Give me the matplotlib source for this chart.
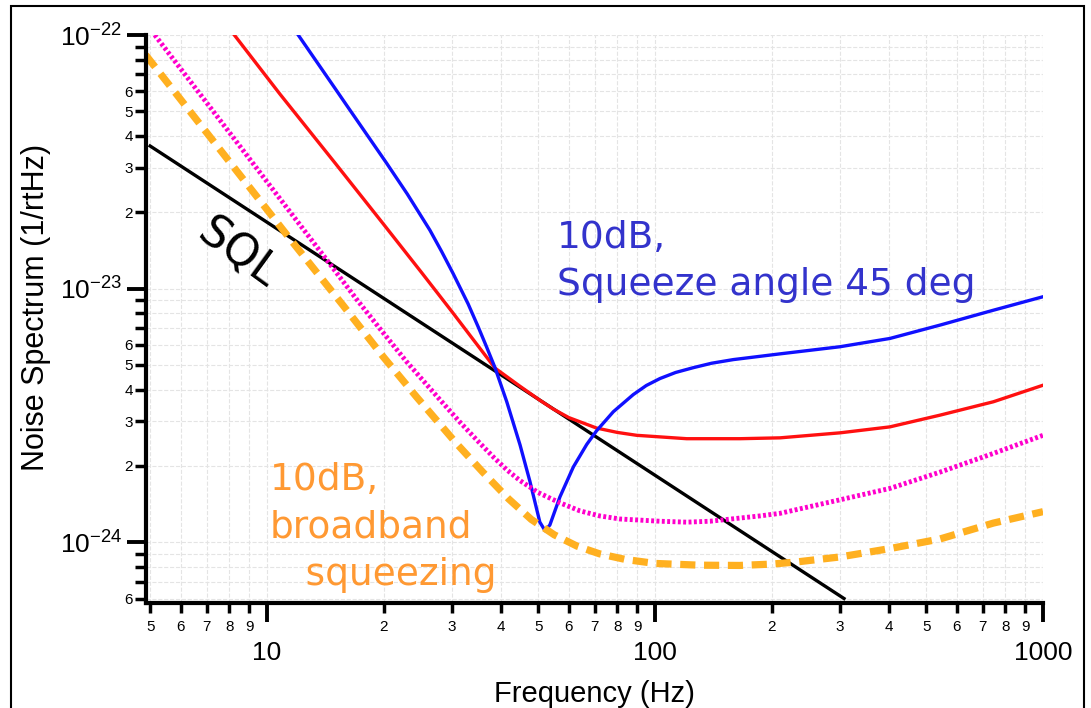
import numpy as np
import matplotlib
matplotlib.use('Agg')
import matplotlib.pyplot as plt
import matplotlib.ticker as ticker
from matplotlib.patches import Rectangle

plt.rcParams['font.family'] = ['Liberation Sans', 'DejaVu Sans']

# SQL (straight line in log-log)
freq_sql = [5, 307]
sql = [3.65e-23, 6.0e-25]

# red: no squeezing
freq_red = [8.24, 10.8, 15, 20, 25, 30, 34, 38.7, 44.9, 50.5, 54.7, 60, 70.7, 80,
            89.7, 120.7, 165.6, 210, 299.8, 403, 542.6, 745, 1000]
red = [1e-22, 5.85e-23, 3.12e-23, 1.79e-23, 1.16e-23, 8.1e-24, 6.3e-24, 4.86e-24,
       4.12e-24, 3.63e-24, 3.35e-24, 3.1e-24, 2.82e-24, 2.71e-24, 2.64e-24, 2.56e-24,
       2.56e-24, 2.58e-24, 2.70e-24, 2.85e-24, 3.17e-24, 3.58e-24, 4.16e-24]

# blue: 10dB, squeeze angle 45 deg
freq_blue = [12.04, 15, 16.05, 20.35, 23, 26.3, 28.2, 30.2, 33, 35.05, 36.8, 38.7,
             41.5, 44.9, 47.6, 50.5, 52.1, 53.6, 56.9, 61.6, 66.7, 70.7, 78.1, 87.9,
             95, 103, 113, 125.6, 140, 159.2, 209.9, 299.8, 403, 542.6, 745, 1000]
blue = [1e-22, 6.14e-23, 5.28e-23, 3.12e-23, 2.36e-23, 1.70e-23, 1.40e-23, 1.145e-23,
        8.7e-24, 7.05e-24, 5.9e-24, 4.88e-24, 3.58e-24, 2.42e-24, 1.74e-24, 1.2e-24,
        1.11e-24, 1.17e-24, 1.51e-24, 1.98e-24, 2.43e-24, 2.75e-24, 3.27e-24,
        3.82e-24, 4.15e-24, 4.42e-24, 4.67e-24, 4.88e-24, 5.08e-24, 5.25e-24,
        5.53e-24, 5.90e-24, 6.36e-24, 7.18e-24, 8.22e-24, 9.29e-24]

# magenta dotted
freq_mag = [5.14, 8, 10, 14.25, 17, 19.55, 22.9, 27.9, 31.4, 35, 38.3, 41.5, 44.9,
            50, 56.9, 64, 72, 81.2, 103, 120.7, 138.6, 186.5, 210, 299.8, 403,
            542.6, 745, 1000]
mag = [1e-22, 4.13e-23, 2.64e-23, 1.30e-23, 9.1e-24, 6.95e-24, 5.15e-24, 3.65e-24,
       2.98e-24, 2.5e-24, 2.17e-24, 1.93e-24, 1.75e-24, 1.57e-24, 1.43e-24,
       1.33e-24, 1.27e-24, 1.235e-24, 1.21e-24, 1.20e-24, 1.21e-24, 1.27e-24,
       1.30e-24, 1.47e-24, 1.63e-24, 1.89e-24, 2.24e-24, 2.64e-24]

# orange dashed: 10dB broadband squeezing
freq_or = [4.87, 8, 11.7, 15.7, 19.95, 24.3, 30.8, 36, 42, 48, 55, 63, 72, 84, 100,
           130, 165, 200, 230, 299.8, 403, 542.6, 745, 1000]
orange = [8.34e-23, 3.17e-23, 1.51e-23, 8.6e-24, 5.38e-24, 3.74e-24, 2.45e-24,
          1.89e-24, 1.48e-24, 1.23e-24, 1.07e-24, 9.65e-25, 9.0e-25, 8.55e-25,
          8.25e-25, 8.12e-25, 8.1e-25, 8.2e-25, 8.35e-25, 8.75e-25, 9.44e-25,
          1.03e-24, 1.19e-24, 1.32e-24]

x_minor = [5, 6, 7, 8, 9, 20, 30, 40, 50, 60, 70, 80, 90,
           200, 300, 400, 500, 600, 700, 800, 900]
x_major = [10, 100, 1000]
y_major = [1e-24, 1e-23, 1e-22]
y_minor = [m * 10.0 ** e for e in (-25, -24, -23) for m in range(2, 10)
           if m * 10.0 ** e > 5.8e-25]

fig = plt.figure(figsize=(10.91, 7.08), dpi=100)
ax = fig.add_axes([145.7 / 1091, 105 / 708, 897.3 / 1091, 568 / 708])

ax.plot(freq_sql, sql, color='black', lw=2.4)
ax.plot(freq_red, red, color='#ff1010', lw=2.4)
ax.plot(freq_blue, blue, color='#1010ff', lw=2.4)
ax.plot(freq_mag, mag, color='#ff00cc', lw=3.5, dashes=(0.6, 0.5))
ax.plot(freq_or, orange, color='#ffb020', lw=5.2, dashes=(2.1, 1.2))

ax.set_xscale('log')
ax.set_yscale('log')
ax.set_xlim(4.87, 1000)
ax.set_ylim(5.76e-25, 1e-22)

ax.xaxis.set_major_locator(ticker.FixedLocator(x_major))
ax.xaxis.set_major_formatter(ticker.FixedFormatter([str(v) for v in x_major]))
ax.xaxis.set_minor_locator(ticker.FixedLocator(x_minor))
ax.xaxis.set_minor_formatter(ticker.FuncFormatter(
    lambda v, p: str(int(round(v / 10 ** np.floor(np.log10(v) + 1e-9))))))

ax.yaxis.set_major_locator(ticker.FixedLocator(y_major))
ax.yaxis.set_major_formatter(ticker.FuncFormatter(
    lambda v, p: r'$\mathregular{10^{%d}}$' % int(round(np.log10(v)))))
ax.yaxis.set_minor_locator(ticker.FixedLocator(y_minor))


def ymin_fmt(v, p):
    m = int(round(v / 10 ** np.floor(np.log10(v) + 1e-9)))
    return str(m) if m <= 6 else ''


ax.yaxis.set_minor_formatter(ticker.FuncFormatter(ymin_fmt))

ax.tick_params(axis='x', which='major', length=14, width=2.8, labelsize=19, pad=13)
ax.tick_params(axis='x', which='minor', length=7, width=2.5, labelsize=11, pad=5)
ax.tick_params(axis='y', which='major', length=14, width=2.8, labelsize=19, pad=3)
ax.tick_params(axis='y', which='minor', length=8, width=2.5, labelsize=11, pad=1)

for s in ['top', 'right']:
    ax.spines[s].set_visible(False)
for s in ['left', 'bottom']:
    ax.spines[s].set_linewidth(3)

ax.grid(True, which='both', color='#e4e4e4', ls='--', lw=0.8)
ax.set_axisbelow(True)

ax.set_xlabel('Frequency (Hz)', fontsize=21, labelpad=11)
ax.set_ylabel('Noise Spectrum (1/rtHz)', fontsize=22)
ax.yaxis.set_label_coords(-0.105, 0.52)

ann = ['DejaVu Sans']
ax.text(0.048, 0.615, 'SQL', transform=ax.transAxes, rotation=-36, fontsize=32,
        color='black', family=ann, ha='left', va='center')
ax.text(0.458, 0.528, '10dB,\nSqueeze angle 45 deg', transform=ax.transAxes,
        fontsize=27, color='#3333cc', family=ann, ha='left', va='bottom',
        linespacing=1.38)
ax.text(0.138, 0.018, '10dB,\nbroadband\n   squeezing', transform=ax.transAxes,
        fontsize=27, color='#ff9933', family=ann, ha='left', va='bottom',
        linespacing=1.4)

fig.add_artist(Rectangle((11 / 1091, -0.02), 1073 / 1091, 1 - 6 / 708 + 0.02,
                         transform=fig.transFigure, fill=False, ec='black', lw=1.5))

fig.savefig('out.png', dpi=100)
